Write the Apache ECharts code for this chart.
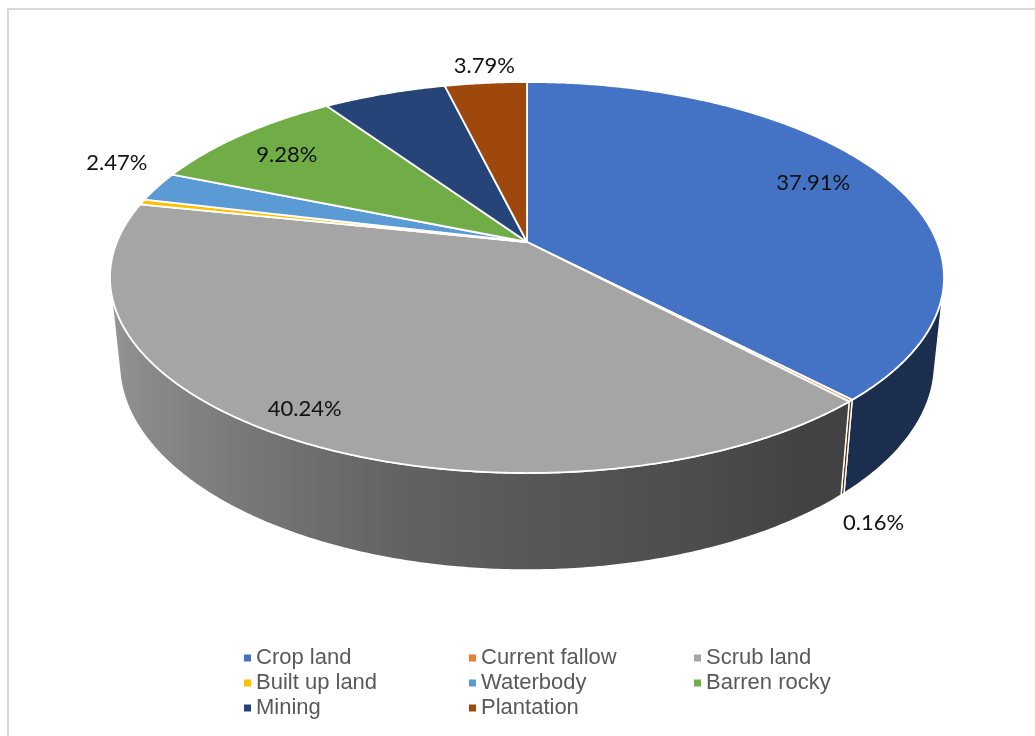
<!DOCTYPE html>
<html>
<head>
<meta charset="utf-8">
<script src="https://cdn.jsdelivr.net/npm/echarts@6/dist/echarts.min.js"></script>
<style>
  html, body { margin: 0; padding: 0; background: #fff; }
  #chart { width: 1035px; height: 736px; }
</style>
</head>
<body>
<div id="chart"></div>
<script>
// Land use shares (%)
const categories = ['Crop land', 'Current fallow', 'Scrub land', 'Built up land', 'Waterbody', 'Barren rocky', 'Mining', 'Plantation'];
const shares = [37.91, 0.16, 40.24, 0.45, 2.47, 9.28, 5.70, 3.79];
const colors = ['#4472C4', '#ED7D31', '#A5A5A5', '#FFC000', '#5B9BD5', '#70AD47', '#264478', '#9E480E'];
const legendColumns = [
  ['Crop land', 'Built up land', 'Mining'],
  ['Current fallow', 'Waterbody', 'Plantation'],
  ['Scrub land', 'Barren rocky']
];

// Where each percentage label sits: radius fraction, on the top rim or the base, plus a nudge in px
const labelPlacement = {
  'Crop land':      { r: 0.80, base: false, dx: -3,  dy: -6 },
  'Current fallow': { r: 1.00, base: true,  dx: 31,  dy: 29 },
  'Scrub land':     { r: 0.88, base: false, dx: -16, dy: -1 },
  'Waterbody':      { r: 1.10, base: false, dx: -6,  dy: -19 },
  'Barren rocky':   { r: 0.80, base: false, dx: -7,  dy: 0 },
  'Plantation':     { r: 1.10, base: false, dx: 2,   dy: -4 }
};

// Perspective view of the disc (radius 1, apex projected to CX, CY)
const CX = 527, CY = 242;
const FOCAL = 2004, DIST = 4.887;
const TILT_SIN = 0.4611, TILT_COS = 0.8874;
const THICK = 0.2384;
const RAD = Math.PI / 180;
// rim directions whose outer wall faces the camera
const VIS_LIMIT = Math.acos(-1 / (DIST * TILT_COS)) / RAD;
const VIS_MIN = VIS_LIMIT, VIS_MAX = 360 - VIS_LIMIT;

function project(r, deg, h) {
  const X = r * Math.sin(deg * RAD);
  const Z = r * Math.cos(deg * RAD);
  const depth = DIST + Z * TILT_COS - h * TILT_SIN;
  return [CX + FOCAL * X / depth, CY - FOCAL * (Z * TILT_SIN + h * TILT_COS) / depth];
}

// brightness of the outer wall by direction (lit from the left)
const shadeStops = [[90, 0.40], [145, 0.40], [165, 0.48], [180, 0.53], [191, 0.58], [225, 0.78], [258, 0.94], [270, 0.94]];
function shadeFactor(deg) {
  for (let i = 0; i < shadeStops.length - 1; i++) {
    const [a, fa] = shadeStops[i], [b, fb] = shadeStops[i + 1];
    if (deg >= a && deg <= b) return fa + (fb - fa) * (deg - a) / (b - a);
  }
  return deg < 90 ? 0.40 : 0.94;
}
function shade(hex, f) {
  const n = parseInt(hex.slice(1), 16);
  const r = Math.round(((n >> 16) & 255) * f);
  const g = Math.round(((n >> 8) & 255) * f);
  const b = Math.round((n & 255) * f);
  return 'rgb(' + r + ',' + g + ',' + b + ')';
}

// cumulative starting share of each slice
const starts = [];
shares.reduce((acc, v, i) => { starts[i] = acc; return acc + v; }, 0);

function renderSlice(params, api) {
  const name = categories[params.seriesIndex];
  const color = colors[params.seriesIndex];
  const start = api.value(0), share = api.value(1);
  const a0 = start * 3.6, a1 = (start + share) * 3.6;
  const children = [];

  // top face
  const steps = Math.max(2, Math.ceil((a1 - a0) / 0.5));
  const top = [project(0, 0, 0)];
  for (let i = 0; i <= steps; i++) top.push(project(1, a0 + (a1 - a0) * i / steps, 0));
  children.push({
    type: 'polygon', shape: { points: top }, z2: 10,
    style: { fill: color, stroke: '#ffffff', lineWidth: 1.8, lineJoin: 'round' }
  });

  // outer wall, only where it faces the viewer, shaded left to right
  const s0 = Math.max(a0, VIS_MIN), s1 = Math.min(a1, VIS_MAX);
  if (s1 > s0) {
    const n = Math.max(2, Math.ceil((s1 - s0) / 0.5));
    const upper = [], lower = [], angles = [];
    for (let i = 0; i <= n; i++) {
      const a = s0 + (s1 - s0) * i / n;
      angles.push(a);
      upper.push(project(1, a, 0));
      lower.push(project(1, a, -THICK));
    }
    const xs = upper.concat(lower).map(p => p[0]);
    const xMin = Math.min.apply(null, xs), xMax = Math.max.apply(null, xs);
    const span = Math.max(1e-6, xMax - xMin);
    const stops = [];
    for (let i = 0; i <= n; i += Math.max(1, Math.floor(n / 40))) {
      stops.push({ offset: Math.min(1, Math.max(0, (upper[i][0] - xMin) / span)), color: shade(color, shadeFactor(angles[i])) });
    }
    stops.sort((p, q) => p.offset - q.offset);
    children.push({
      type: 'polygon', z2: 1,
      shape: { points: upper.concat(lower.slice().reverse()) },
      style: {
        fill: new echarts.graphic.LinearGradient(0, 0, 1, 0, stops),
        stroke: '#ffffff', lineWidth: 1.4, lineJoin: 'round'
      }
    });
  }

  // percentage label
  const place = labelPlacement[name];
  if (place) {
    const mid = (a0 + a1) / 2;
    const p = project(place.r, mid, place.base ? -THICK : 0);
    children.push({
      type: 'text', z2: 20,
      x: p[0] + place.dx, y: p[1] + place.dy,
      style: {
        text: share.toFixed(2) + '%',
        fill: '#111111',
        font: '22px Lato',
        align: 'center',
        verticalAlign: 'middle'
      }
    });
  }
  return { type: 'group', children: children };
}

const chart = echarts.init(document.getElementById('chart'), null, { renderer: 'canvas' });

const series = categories.map((name, i) => ({
  type: 'custom',
  name: name,
  coordinateSystem: 'none',
  silent: true,
  itemStyle: { color: colors[i] },
  data: [[starts[i], shares[i]]],
  renderItem: renderSlice
}));

const legendLefts = [244, 469, 694];
const legends = legendColumns.map((names, c) => ({
  data: names,
  orient: 'vertical',
  left: legendLefts[c],
  top: 647,
  icon: 'rect',
  itemWidth: 7,
  itemHeight: 7,
  itemGap: 3,
  padding: 0,
  selectedMode: false,
  textStyle: { fontFamily: 'Liberation Sans', fontSize: 22, color: '#595959', lineHeight: 20 }
}));

chart.setOption({
  animation: false,
  backgroundColor: '#ffffff',
  color: colors,
  legend: legends,
  graphic: [{
    type: 'rect', silent: true,
    shape: { x: 8, y: 9, width: 1040, height: 740 },
    style: { fill: null, stroke: '#D9D9D9', lineWidth: 2 }
  }],
  series: series
});
</script>
</body>
</html>
